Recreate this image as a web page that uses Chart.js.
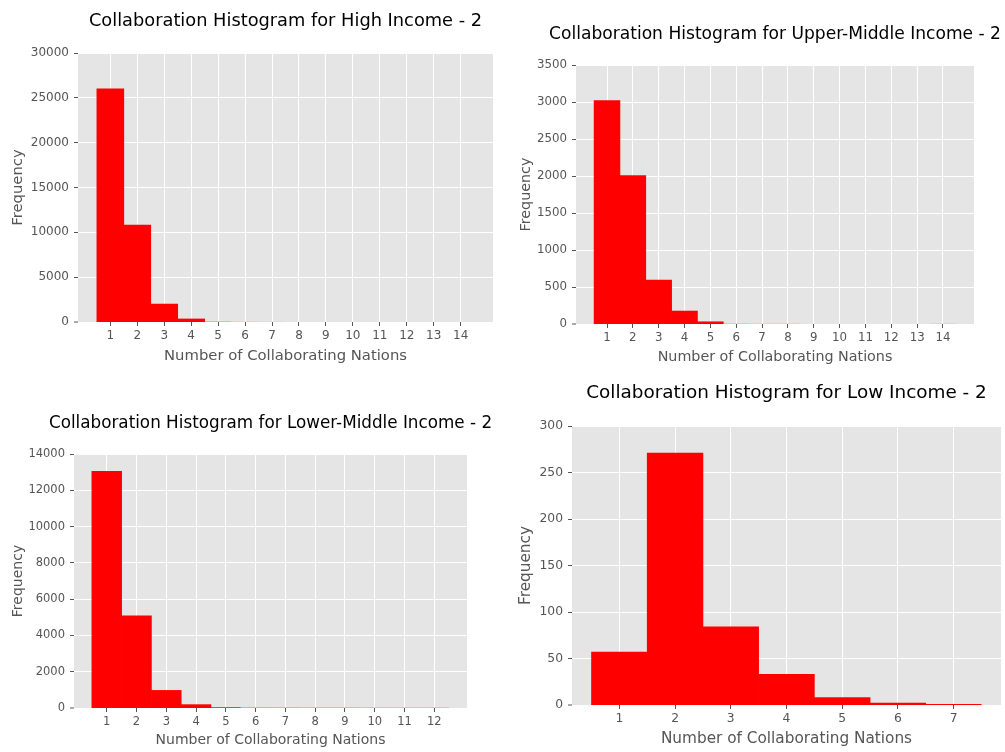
<!DOCTYPE html>
<html><head><meta charset="utf-8">
<script src="https://cdn.jsdelivr.net/npm/chart.js@4.4.1/dist/chart.umd.min.js"></script>
<style>
html,body{margin:0;padding:0;background:#fff;width:1005px;height:752px;overflow:hidden;}
canvas{position:absolute;}
</style></head><body>
<canvas id="cHigh" width="502" height="376" style="left:0px;top:0px"></canvas>
<canvas id="cUpper" width="503" height="376" style="left:502px;top:0px"></canvas>
<canvas id="cLower" width="502" height="376" style="left:0px;top:376px"></canvas>
<canvas id="cLow" width="503" height="376" style="left:502px;top:376px"></canvas>
<script>
// ---- data ----
const highCategories = [1,2,3,4,5,6,7,8,9,10,11,12,13,14];
const highValues = [26000,10800,2000,340,25,8,4,2,1,1,1,0,0,1];
const highTickLabels = ['1','2','3','4','5','6','7','8','9','10','11','12','13','14'];

const upperCategories = [1,2,3,4,5,6,7,8,9,10,11,12,13,14];
const upperValues = [3020,2005,595,175,30,2,1,1,0,0,0,0,0,1];
const upperTickLabels = ['1','2','3','4','5','6','7','8','9','10','11','12','13','14'];

const lowerCategories = [1,2,3,4,5,6,7,8,9,10,11,12];
const lowerValues = [13050,5080,970,185,40,16,14,12,12,11,10,10];
const lowerTickLabels = ['1','2','3','4','5','6','7','8','9','10','11','12'];

const lowCategories = [1,2,3,4,5,6,7];
const lowValues = [57,271,84,33,8,2,1];
const lowTickLabels = ['1','2','3','4','5','6','7'];

const titles = [
  'Collaboration Histogram for High Income - 2',
  'Collaboration Histogram for Upper-Middle Income - 2',
  'Collaboration Histogram for Lower-Middle Income - 2',
  'Collaboration Histogram for Low Income - 2'
];
const xAxisLabel = 'Number of Collaborating Nations';
const yAxisLabel = 'Frequency';

// ---- drawing ----
const FONT = '"DejaVu Sans", "Liberation Sans", sans-serif';

const mplPlugin = {
  id: 'mpl',
  beforeDraw(chart, args, o) {
    const {ctx, chartArea: a} = chart;
    ctx.save();
    ctx.fillStyle = '#E5E5E5';
    ctx.fillRect(a.left, a.top, a.right - a.left, a.bottom - a.top);
    ctx.restore();
  },
  afterDraw(chart, args, o) {
    const {ctx, chartArea: a} = chart;
    const cx = (a.left + a.right) / 2;
    ctx.save();
    ctx.textAlign = 'center';
    ctx.textBaseline = 'alphabetic';
    ctx.fillStyle = '#000000';
    ctx.font = o.titleSize + 'px ' + FONT;
    ctx.fillText(o.title, cx, o.titleBase);
    ctx.fillStyle = '#555555';
    ctx.font = o.labelSize + 'px ' + FONT;
    ctx.fillText(o.xLabel, cx, o.xLabelBase);
    ctx.translate(o.yLabelBase, (a.top + a.bottom) / 2);
    ctx.rotate(-Math.PI / 2);
    ctx.fillText(o.yLabel, 0, 0);
    ctx.restore();
  }
};

function makeHist(id, cats, vals, tickLabels, s) {
  const canvas = document.getElementById(id);
  const cw = canvas.width, ch = canvas.height;
  const yAxisW = s.plot.L - s.canvasX;
  const xAxisH = (s.canvasY + ch) - s.plot.B;
  const plotH = s.plot.B - s.plot.T;
  new Chart(canvas, {
    type: 'bar',
    data: {
      datasets: [{
        data: cats.map((c, i) => ({x: c, y: vals[i]})),
        backgroundColor: '#FF0000',
        borderWidth: 0,
        barPercentage: 1.0,
        categoryPercentage: 1.0,
        // only widen bars that are at least a pixel tall (sub-pixel bars stay faint, like matplotlib)
        inflateAmount: (ctx) => (ctx.raw && ctx.raw.y / s.yMax * plotH >= 1) ? 0.33 : 0
      }]
    },
    options: {
      responsive: false,
      animation: false,
      devicePixelRatio: 1,
      layout: {padding: {left: 0, top: s.plot.T - s.canvasY, right: (s.canvasX + cw) - s.plot.R, bottom: 0}},
      plugins: {
        legend: {display: false},
        tooltip: {enabled: false},
        title: {display: false},
        mpl: {
          title: s.title, titleSize: s.titleSize, titleBase: s.titleBase - s.canvasY,
          xLabel: xAxisLabel, yLabel: yAxisLabel, labelSize: s.labelSize,
          xLabelBase: s.xLabelBase - s.canvasY, yLabelBase: s.yLabelBase - s.canvasX
        }
      },
      scales: {
        x: {
          type: 'linear',
          offset: false,
          min: s.xMin, max: s.xMax,
          grid: {offset: false, color: '#FFFFFF', lineWidth: 1, tickColor: '#555555', tickLength: 4, drawTicks: true},
          border: {display: false},
          afterBuildTicks: (scale) => { scale.ticks = cats.map(v => ({value: v})); },
          afterFit: (scale) => { scale.height = xAxisH; },
          ticks: {
            autoSkip: false, maxRotation: 0, minRotation: 0,
            color: '#555555', padding: s.xTickPad,
            font: {family: FONT, size: s.tickSize, lineHeight: 1.2},
            callback: (v, i) => tickLabels[i]
          }
        },
        y: {
          type: 'linear',
          min: 0, max: s.yMax,
          grid: {
            color: '#FFFFFF',
            lineWidth: (ctx) => (ctx.tick && ctx.tick.value === 0) ? 0 : 1,
            tickColor: '#555555', tickWidth: 1, tickLength: 4, drawTicks: true
          },
          border: {display: false},
          afterFit: (scale) => { scale.width = yAxisW; },
          ticks: {
            stepSize: s.yStep,
            color: '#555555', padding: 5,
            font: {family: FONT, size: s.tickSize},
            callback: (v) => String(v)
          }
        }
      }
    },
    plugins: [mplPlugin]
  });
}

makeHist('cHigh', highCategories, highValues, highTickLabels, {
  canvasX: 0, canvasY: 0, plot: {L: 78, R: 493, T: 53, B: 322},
  xMin: -0.2, xMax: 15.2, yMax: 30000, yStep: 5000,
  title: titles[0], titleSize: 17.8, titleBase: 26,
  tickSize: 12, xTickPad: 3, labelSize: 14.8, xLabelBase: 360, yLabelBase: 22
});
makeHist('cUpper', upperCategories, upperValues, upperTickLabels, {
  canvasX: 502, canvasY: 0, plot: {L: 576, R: 974, T: 65, B: 324},
  xMin: -0.2, xMax: 15.2, yMax: 3500, yStep: 500,
  title: titles[1], titleSize: 17.1, titleBase: 39.3,
  tickSize: 11.8, xTickPad: 2.5, labelSize: 14.3, xLabelBase: 360.7, yLabelBase: 530
});
makeHist('cLower', lowerCategories, lowerValues, lowerTickLabels, {
  canvasX: 0, canvasY: 376, plot: {L: 74, R: 467, T: 454, B: 708},
  xMin: -0.1, xMax: 13.1, yMax: 14000, yStep: 2000,
  title: titles[2], titleSize: 16.8, titleBase: 427.7,
  tickSize: 11.5, xTickPad: 3, labelSize: 14, xLabelBase: 744.3, yLabelBase: 22
});
makeHist('cLow', lowCategories, lowValues, lowTickLabels, {
  canvasX: 502, canvasY: 376, plot: {L: 572, R: 1001, T: 426, B: 705},
  xMin: 0.15, xMax: 7.85, yMax: 300, yStep: 50,
  title: titles[3], titleSize: 18.4, titleBase: 397.7,
  tickSize: 12.3, xTickPad: 2.5, labelSize: 15.3, xLabelBase: 743.3, yLabelBase: 530
});
</script>
</body></html>
